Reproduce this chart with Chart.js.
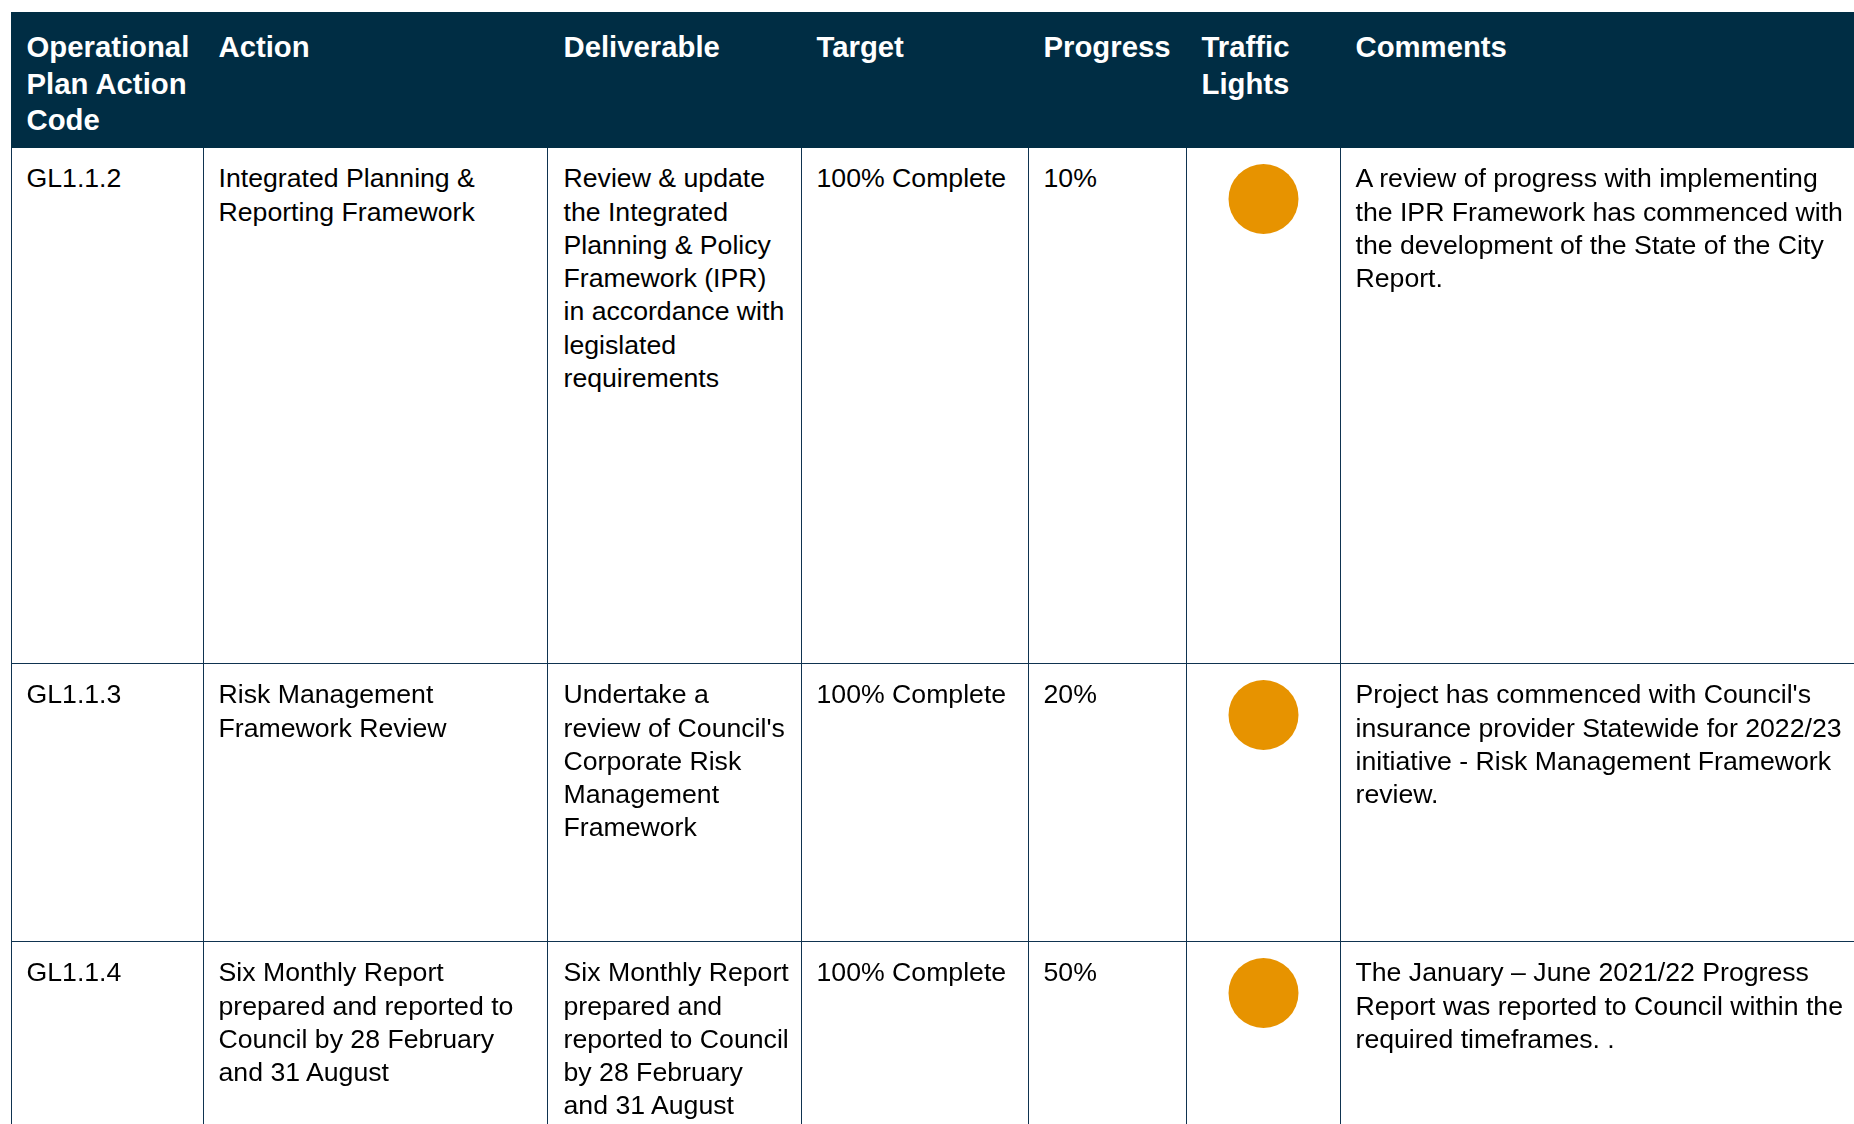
<!DOCTYPE html>
<html>
<head>
<meta charset="utf-8">
<script src="https://cdn.jsdelivr.net/npm/chart.js@4.4.0/dist/chart.umd.min.js"></script>
<style>
  html, body { margin: 0; padding: 0; background: #ffffff; overflow: hidden; width: 1854px; height: 1124px; }
  table {
    position: absolute; left: 11px; top: 12px;
    border-collapse: collapse; table-layout: fixed; width: 1860px;
    font-family: "Liberation Sans", Arial, sans-serif;
  }
  th {
    background: #002d44; color: #ffffff; font-weight: bold; font-size: 29.3px; line-height: 36.6px;
    text-align: left; vertical-align: top; padding: 16px 8px 0 14.5px; border: 1px solid #002d44;
  }
  td {
    color: #000000; font-size: 26.67px; line-height: 33.3px; text-align: left; vertical-align: top;
    padding: 14.3px 8px 0 14.5px; border: 1px solid #0f3350;
  }
  td.deliv, th.deliv { padding-left: 15.5px; padding-right: 11px; }
  td.comm { padding-right: 22px; }
  td.light { padding: 0; }
  td.light canvas { display: block; }
  tr.head { height: 135px; }
  .nowrap { white-space: nowrap; }
</style>
</head>
<body>
<table id="tbl">
  <colgroup>
    <col style="width:192px"><col style="width:344px"><col style="width:254px"><col style="width:227px">
    <col style="width:158px"><col style="width:154px"><col style="width:531px">
  </colgroup>
  <thead><tr class="head" id="headRow"></tr></thead>
  <tbody id="body"></tbody>
</table>
<script>
// ---- data ----
const headers = ["Operational Plan Action Code", "Action", "Deliverable", "Target", "Progress", "Traffic Lights", "Comments"];
const codes = ["GL1.1.2", "GL1.1.3", "GL1.1.4"];
const actions = [
  "Integrated Planning & Reporting Framework",
  "Risk Management Framework Review",
  "Six Monthly Report prepared and reported to Council by 28 February and 31 August"
];
const deliverables = [
  "Review & update the Integrated Planning & Policy Framework (IPR) in accordance with legislated requirements",
  "Undertake a review of Council's Corporate Risk Management Framework",
  "Six Monthly Report prepared and reported to Council by 28 February and 31 August"
];
const targets = ["100% Complete", "100% Complete", "100% Complete"];
const progress = [10, 20, 50];
const lights = ["amber", "amber", "amber"];
const comments = [
  "A review of progress with implementing the IPR Framework has commenced with the development of the State of the City Report.",
  "Project has commenced with Council's insurance provider Statewide for 2022/23 initiative - Risk Management Framework review.",
  "The January \u2013 June 2021/22 Progress Report was reported to Council within the required timeframes. ."
];
const rowHeights = [516, 278, 320];
const lightColors = { amber: "#e79300", green: "#2e9e44", red: "#d22b2b" };

// ---- build table ----
const headRow = document.getElementById("headRow");
headers.forEach((h, i) => {
  const th = document.createElement("th");
  th.textContent = h;
  if (i === 2) th.className = "deliv";
  if (i === 4) th.className = "nowrap";
  headRow.appendChild(th);
});
const body = document.getElementById("body");
codes.forEach((code, r) => {
  const tr = document.createElement("tr");
  tr.style.height = rowHeights[r] + "px";
  const cells = [code, actions[r], deliverables[r], targets[r], progress[r] + "%", null, comments[r]];
  cells.forEach((c, i) => {
    const td = document.createElement("td");
    if (i === 5) {
      td.className = "light";
      const cv = document.createElement("canvas");
      cv.id = "light" + r;
      cv.width = 153;
      cv.height = 102;
      td.appendChild(cv);
    } else {
      td.textContent = c;
      if (i === 2) td.className = "deliv";
      if (i === 6) td.className = "comm";
    }
    tr.appendChild(td);
  });
  body.appendChild(tr);
});

// ---- traffic lights drawn with Chart.js ----
codes.forEach((code, r) => {
  new Chart(document.getElementById("light" + r), {
    type: "scatter",
    data: {
      datasets: [{
        label: code,
        data: [{ x: 0, y: progress[r] }],
        pointRadius: 35,
        pointHoverRadius: 35,
        borderWidth: 0,
        clip: false,
        backgroundColor: lightColors[lights[r]]
      }]
    },
    options: {
      responsive: false,
      animation: false,
      devicePixelRatio: 1,
      events: [],
      layout: { padding: 0 },
      plugins: { legend: { display: false }, tooltip: { enabled: false } },
      scales: {
        x: { display: false, min: -1, max: 1 },
        y: { display: false, min: progress[r] - 1, max: progress[r] + 1 }
      }
    }
  });
});
</script>
</body>
</html>
